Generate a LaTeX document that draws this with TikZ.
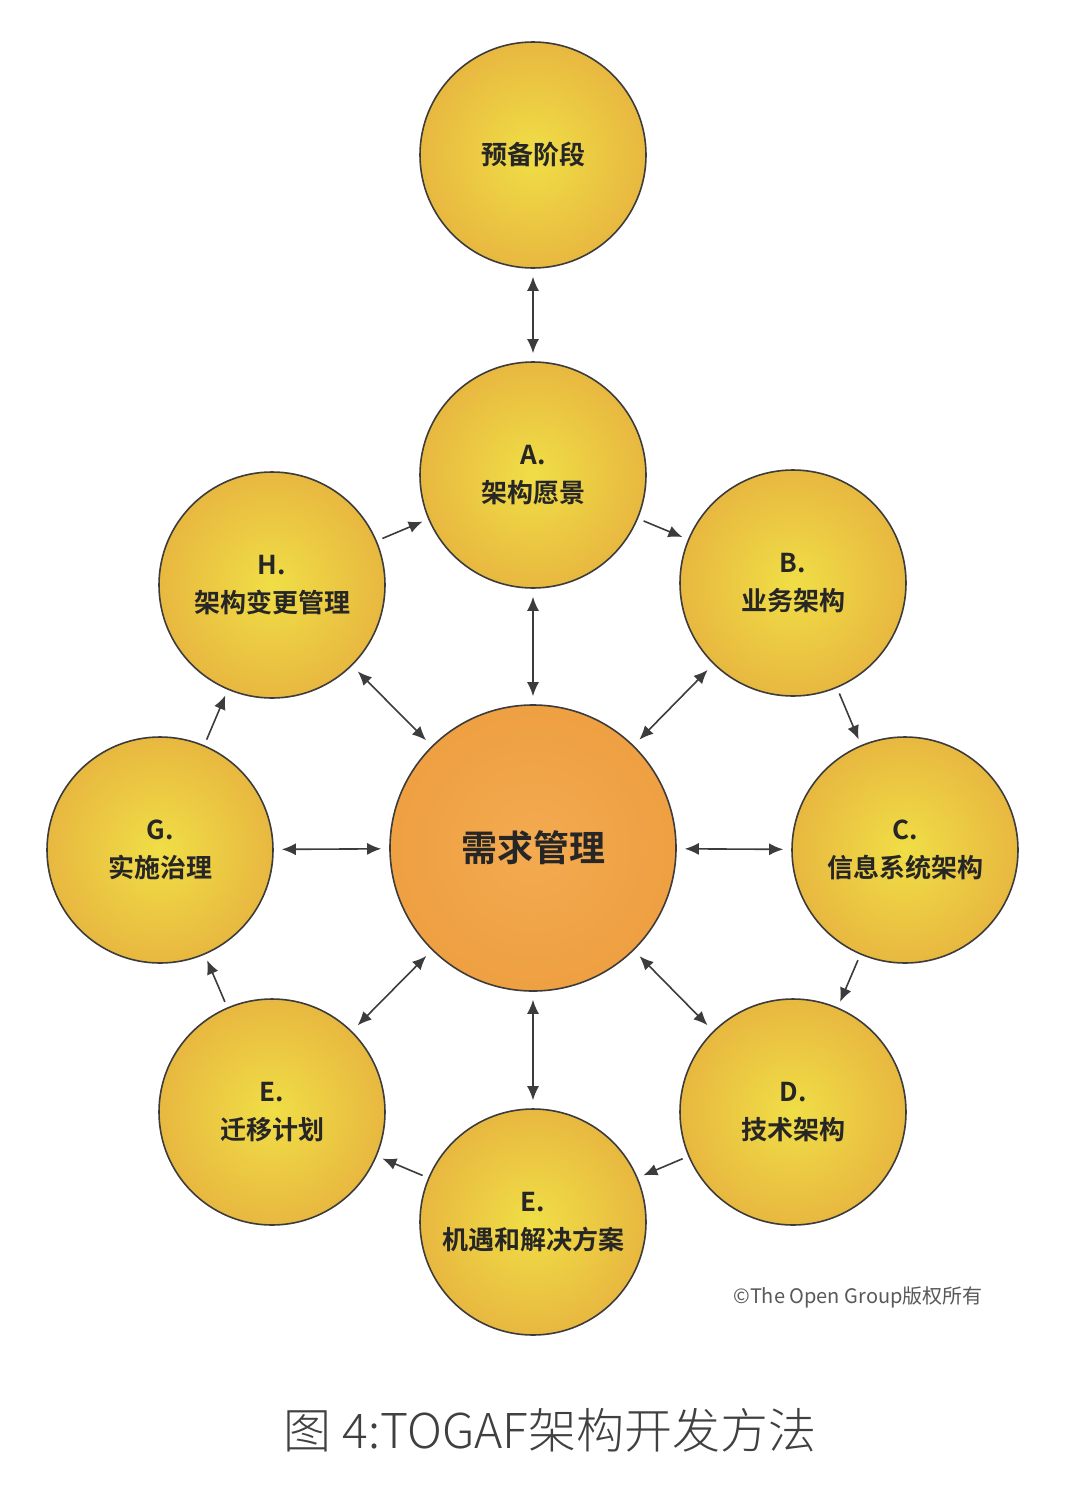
\documentclass[tikz,border=0pt]{standalone}
\usepackage{fontspec}
\newfontfamily\cjk{Noto Sans CJK SC}
\newfontfamily\cjkb{Noto Sans CJK SC Bold}
\newfontfamily\cjkl{Noto Sans CJK SC Light}
\usetikzlibrary{arrows.meta, positioning}
\definecolor{phaseInner}{RGB}{240,222,70}
\definecolor{phaseOuter}{RGB}{232,184,64}
\definecolor{coreInner}{RGB}{244,170,80}
\definecolor{coreOuter}{RGB}{238,160,66}
\definecolor{edgeColor}{RGB}{60,60,60}
\tikzset{phase/.style={circle, draw=edgeColor, thick, minimum size=113pt, inner color=phaseInner, outer color=phaseOuter, align=center, font=\cjkb\fontsize{13}{19}\selectfont, text=black!85}}
\tikzset{core/.style={phase, minimum size=143pt, inner color=coreInner, outer color=coreOuter, font=\cjkb\fontsize{18}{22}\selectfont}}
\tikzset{both/.style={{Latex[length=7pt,width=6pt]}-{Latex[length=7pt,width=6pt]}, thick, edgeColor, shorten <=4pt, shorten >=4pt}}
\tikzset{cycle/.style={-{Latex[length=7pt,width=6pt]}, thick, edgeColor, shorten <=3pt, shorten >=3pt}}
\begin{document}
\begin{tikzpicture}[x=0.5pt, y=-0.5pt]
	\useasboundingbox[fill=white] (0,0) rectangle (1078,1488);
	% Nodes
	\node (prelim) [phase] at (533,155) {预备阶段};
	\node (core) [core] at (533,848) {需求管理};
	\node (visio) [phase] at (533,475) {A.\\架构愿景};
	\node (busin) [phase] at (793,583) {B.\\业务架构};
	\node (infos) [phase] at (905,850) {C.\\信息系统架构};
	\node (techn) [phase] at (793,1112) {D.\\技术架构};
	\node (oppor) [phase] at (533,1222) {E.\\机遇和解决方案};
	\node (migra) [phase] at (272,1112) {E.\\迁移计划};
	\node (gover) [phase] at (160,850) {G.\\实施治理};
	\node (chang) [phase] at (272,585) {H.\\架构变更管理};
	\node (copyr) [font=\cjk\fontsize{10}{12}\selectfont, text=black!65] at (858,1297) {©The Open Group版权所有};
	\node (title) [font=\cjkl\fontsize{24}{28}\selectfont, text=black!75] at (550,1430) {图 4:TOGAF架构开发方法};
	% Connectors
	\draw [both] (prelim) -- (visio);
	\foreach \p in {visio,busin,infos,techn,oppor,migra,gover,chang}
		\draw [both] (\p) -- (core);
	\draw [cycle] (chang) -- (visio);
	\draw [cycle] (visio) -- (busin);
	\draw [cycle] (busin) -- (infos);
	\draw [cycle] (infos) -- (techn);
	\draw [cycle] (techn) -- (oppor);
	\draw [cycle] (oppor) -- (migra);
	\draw [cycle] (migra) -- (gover);
	\draw [cycle] (gover) -- (chang);
\end{tikzpicture}
\end{document}
